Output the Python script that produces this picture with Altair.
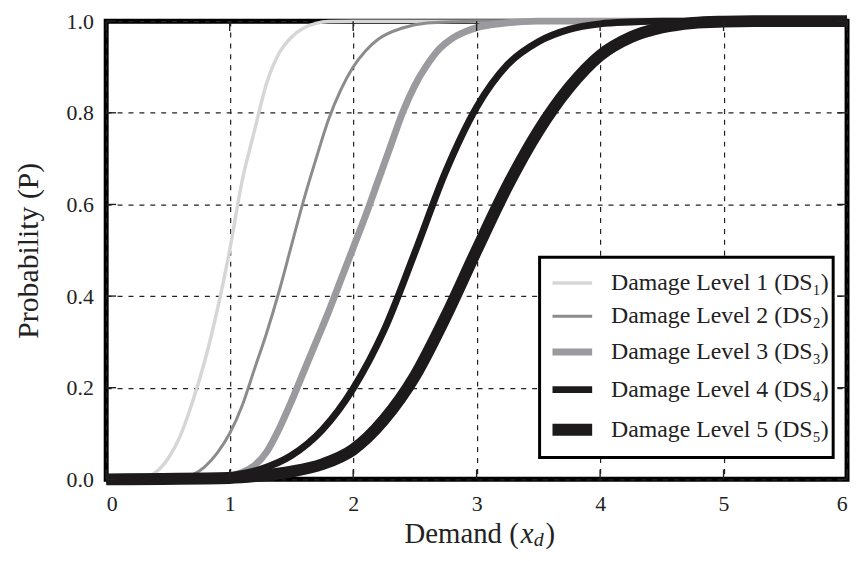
import altair as alt
import pandas as pd

# ---- data ----
levels = [
    "Damage Level 1 (DS₁)",
    "Damage Level 2 (DS₂)",
    "Damage Level 3 (DS₃)",
    "Damage Level 4 (DS₄)",
    "Damage Level 5 (DS₅)",
]

ds1_x = [0, 0.3, 0.4, 0.5, 0.6, 0.7, 0.8, 0.9, 1.0, 1.1, 1.2, 1.3, 1.4, 1.5, 1.6, 1.7, 1.8, 2.0, 6.0]
ds1_y = [0, 0.003, 0.015, 0.045, 0.095, 0.17, 0.26, 0.37, 0.50, 0.65, 0.76, 0.865, 0.93, 0.965, 0.985, 0.995, 0.999, 1.0, 1.0]

ds2_x = [0, 0.6, 0.7, 0.8, 0.9, 1.0, 1.1, 1.2, 1.3, 1.4, 1.5, 1.6, 1.7, 1.8, 1.9, 2.0, 2.1, 2.2, 2.4, 2.6, 3.0, 6.0]
ds2_y = [0, 0.002, 0.01, 0.028, 0.058, 0.1, 0.16, 0.24, 0.32, 0.41, 0.51, 0.61, 0.70, 0.785, 0.85, 0.9, 0.935, 0.96, 0.985, 0.996, 1.0, 1.0]

ds3_x = [0, 0.9, 1.0, 1.1, 1.2, 1.3, 1.4, 1.5, 1.6, 1.7, 1.8, 1.9, 2.0, 2.1, 2.2, 2.3, 2.4, 2.5, 2.6, 2.7, 2.8, 2.9, 3.0, 3.2, 3.5, 6.0]
ds3_y = [0, 0.003, 0.008, 0.015, 0.03, 0.06, 0.11, 0.17, 0.235, 0.30, 0.365, 0.435, 0.505, 0.575, 0.65, 0.725, 0.80, 0.86, 0.905, 0.94, 0.962, 0.976, 0.986, 0.995, 1.0, 1.0]

ds4_x = [0, 0.75, 1.0, 1.25, 1.5, 1.75, 2.0, 2.25, 2.5, 2.75, 3.0, 3.25, 3.5, 3.75, 4.0, 4.25, 4.5, 6.0]
ds4_y = [0, 0.001, 0.008, 0.022, 0.052, 0.108, 0.198, 0.325, 0.495, 0.672, 0.812, 0.905, 0.955, 0.982, 0.994, 0.998, 1.0, 1.0]

ds5_x = [0, 1.0, 1.25, 1.5, 1.75, 2.0, 2.25, 2.5, 2.75, 3.0, 3.25, 3.5, 3.75, 4.0, 4.25, 4.5, 4.75, 5.0, 5.25, 6.0]
ds5_y = [0, 0.003, 0.008, 0.017, 0.033, 0.065, 0.13, 0.225, 0.355, 0.50, 0.64, 0.76, 0.855, 0.925, 0.965, 0.986, 0.996, 0.999, 1.0, 1.0]

x_ticks = [0, 1, 2, 3, 4, 5, 6]
y_ticks = [0.0, 0.2, 0.4, 0.6, 0.8, 1.0]

x_title_parts = ["Demand (", "x", "d", ")"]
y_title = "Probability (P)"

colors = ["#d6d6d6", "#8c8c8c", "#9b9b9f", "#1c1a1a", "#1c1a1a"]
widths = [3.5, 3, 7, 7, 12]

series = [(ds1_x, ds1_y), (ds2_x, ds2_y), (ds3_x, ds3_y), (ds4_x, ds4_y), (ds5_x, ds5_y)]
rows = []
for i, (xs, ys) in enumerate(series):
    for x, y in zip(xs, ys):
        rows.append({"level": levels[i], "order": i, "x": x, "y": y})
df = pd.DataFrame(rows)

FONT = "Liberation Serif"
W, H = 747, 462
INK = "#222222"

xscale = alt.Scale(domain=[0, 6], nice=False)
yscale = alt.Scale(domain=[0, 1], nice=False)

legend = alt.Legend(title=None, orient="none", legendX=437, legendY=238,
                    symbolType="stroke", symbolSize=1600,
                    labelFontSize=24, labelFont=FONT, labelColor=INK,
                    labelOffset=13, padding=4, symbolOffset=3,
                    rowPadding=0, strokeColor="black",
                    fillColor="white", labelLimit=400)

lines = alt.Chart(df).mark_line(interpolate="monotone", strokeCap="butt").encode(
    x=alt.X("x:Q", scale=xscale,
            axis=alt.Axis(values=x_ticks, format="d", title=None)),
    y=alt.Y("y:Q", scale=yscale,
            axis=alt.Axis(values=y_ticks, format=".1f", title=y_title)),
    color=alt.Color("level:N", scale=alt.Scale(domain=levels, range=colors), legend=legend),
    strokeWidth=alt.StrokeWidth("level:N",
                                scale=alt.Scale(type="ordinal", domain=levels, range=widths),
                                legend=legend),
    order=alt.Order("order:Q"),
    detail="level:N",
)

xt = pd.DataFrame({"v": x_ticks})
yt = pd.DataFrame({"v": y_ticks})
tick_style = dict(color=INK, strokeWidth=1.4)
ticks_bottom = alt.Chart(xt).mark_rule(**tick_style).encode(
    x=alt.X("v:Q", scale=xscale), y=alt.value(H), y2=alt.value(H - 10))
ticks_top = alt.Chart(xt).mark_rule(**tick_style).encode(
    x=alt.X("v:Q", scale=xscale), y=alt.value(0), y2=alt.value(10))
ticks_left = alt.Chart(yt).mark_rule(**tick_style).encode(
    y=alt.Y("v:Q", scale=yscale), x=alt.value(0), x2=alt.value(10))
ticks_right = alt.Chart(yt).mark_rule(**tick_style).encode(
    y=alt.Y("v:Q", scale=yscale), x=alt.value(W), x2=alt.value(W - 10))

# x-axis title with italic x and subscript d
P = 523 - 107
BASE = 526
t1 = alt.Chart(pd.DataFrame({"t": [x_title_parts[0]]})).mark_text(
    font=FONT, fontSize=29, align="right", baseline="alphabetic", color=INK
).encode(text="t:N", x=alt.value(P), y=alt.value(BASE))
t2 = alt.Chart(pd.DataFrame({"t": [x_title_parts[1]]})).mark_text(
    font=FONT, fontSize=29, fontStyle="italic", align="left", baseline="alphabetic", color=INK
).encode(text="t:N", x=alt.value(P + 2), y=alt.value(BASE))
t3 = alt.Chart(pd.DataFrame({"t": [x_title_parts[2]]})).mark_text(
    font=FONT, fontSize=20, fontStyle="italic", align="left", baseline="alphabetic", color=INK
).encode(text="t:N", x=alt.value(P + 15), y=alt.value(BASE + 3))
t4 = alt.Chart(pd.DataFrame({"t": [x_title_parts[3]]})).mark_text(
    font=FONT, fontSize=29, align="left", baseline="alphabetic", color=INK
).encode(text="t:N", x=alt.value(P + 27), y=alt.value(BASE))

chart = alt.layer(
    lines, ticks_bottom, ticks_top, ticks_left, ticks_right, t1, t2, t3, t4
).properties(
    width=W, height=H,
    autosize=alt.AutoSizeParams(type="none"),
    padding={"left": 99, "top": 11, "right": 6, "bottom": 72},
).configure_view(
    stroke="black", strokeWidth=5,
).configure_axis(
    grid=True, gridColor=INK, gridDash=[5, 6], gridWidth=1.2,
    domain=False, ticks=False,
    labelFont=FONT, labelFontSize=22, labelColor=INK,
    titleFont=FONT, titleFontSize=30, titleFontWeight="normal", titleColor=INK,
).configure_axisX(
    labelPadding=14,
).configure_axisY(
    labelPadding=13, titlePadding=23,
).configure_legend(
    strokeWidth=3,
)

chart.save("out.html", embed_options={"renderer": "svg", "actions": False})
